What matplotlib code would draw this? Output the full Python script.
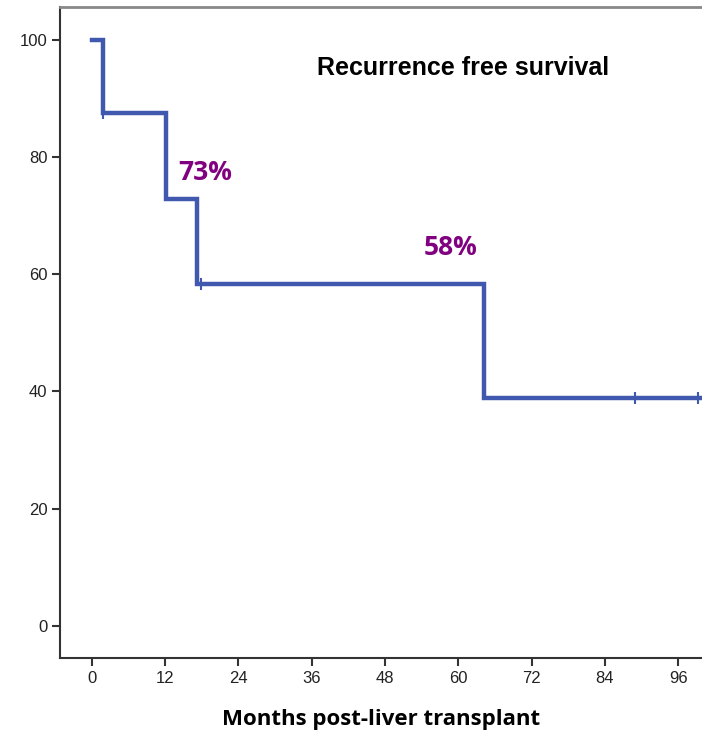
import matplotlib
matplotlib.use("Agg")
import matplotlib.pyplot as plt

# Kaplan-Meier steps (months, survival %)
step_times = [0, 1.8, 12.2, 17.2, 64.2, 99.5]
step_surv = [100, 87.5, 72.9, 58.3, 38.9, 38.9]
censor_times = [1.8, 17.8, 88.9, 99.2]
censor_surv = [87.5, 58.3, 38.9, 38.9]
xticks = [0, 12, 24, 36, 48, 60, 72, 84, 96]
yticks = [0, 20, 40, 60, 80, 100]
annotations = [("73%", 18.5, 77.3), ("58%", 58.7, 64.5)]

fig = plt.figure(figsize=(7.02, 7.33), dpi=100)
ax = fig.add_axes([0.0855, 0.1023, 0.9145, 0.8882])

ax.step(step_times, step_surv, where="post", color="#4059ae", lw=3.2, solid_joinstyle="miter")
ax.plot(censor_times, censor_surv, linestyle="none", marker="|", ms=8, mew=1.5, color="#4059ae")

ax.set_xlim(-5.2, 99.9)
ax.set_ylim(-5.5, 105.6)
ax.set_xticks(xticks)
ax.set_yticks(yticks)
tickfont = dict(family=["Liberation Sans Narrow", "Liberation Sans"], size=12)
ax.set_xticklabels([str(t) for t in xticks], **tickfont, color="#222222")
ax.set_yticklabels([str(t) for t in yticks], **tickfont, color="#222222")
ax.tick_params(direction="out", length=6, width=1.5, color="#333333", pad=3)

ax.spines["right"].set_visible(False)
ax.spines["left"].set_linewidth(1.5)
ax.spines["bottom"].set_linewidth(1.5)
ax.spines["left"].set_color("#333333")
ax.spines["bottom"].set_color("#333333")
ax.spines["top"].set_linewidth(2.0)
ax.spines["top"].set_color("#888888")

ax.text(60.8, 95.2, "Recurrence free survival", ha="center", va="center",
        fontsize=18, fontweight="bold", family="Liberation Sans", color="black")
for txt, x, y in annotations:
    ax.text(x, y, txt, ha="center", va="center", fontsize=19, fontweight="bold",
            family=["Open Sans", "Lato"], color="#800080")

ax.set_xlabel("Months post-liver transplant", fontsize=16, fontweight="bold",
              family=["Open Sans", "Lato"], labelpad=17)

fig.savefig("out.png", dpi=100)
